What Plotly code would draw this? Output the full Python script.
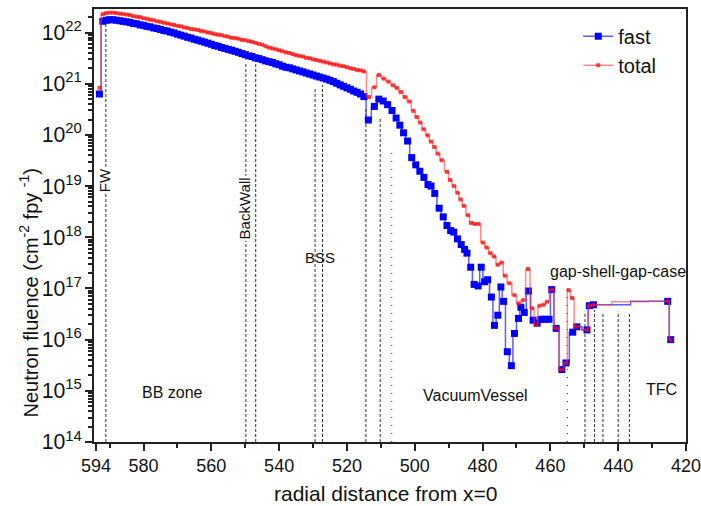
import plotly.graph_objects as go

# ---------------- data ----------------
# breeding blanket zone: positions (cm) shared by both series
depth_bb = [593, 592, 591, 590, 589, 588, 587, 586, 585, 584, 583, 582, 581, 580,
            579, 578, 577, 576, 575, 574, 573, 572, 571, 570, 569, 568, 567, 566,
            565, 564, 563, 562, 561, 560, 559, 558, 557, 556, 555, 554, 553, 552,
            551, 550, 549, 548, 547, 546, 545, 544, 543, 542, 541, 540, 539, 538,
            537, 536, 535, 534, 533, 532, 531, 530, 529, 528, 527, 526, 525, 524,
            523, 522, 521, 520, 519, 518, 517, 516, 515]

fast_bb = [6.3e20, 1.66e22, 1.74e22, 1.78e22, 1.78e22, 1.74e22, 1.70e22, 1.66e22,
           1.62e22, 1.58e22, 1.51e22, 1.48e22, 1.41e22, 1.38e22, 1.32e22, 1.29e22,
           1.23e22, 1.20e22, 1.15e22, 1.10e22, 1.07e22, 1.02e22, 9.8e21, 9.3e21,
           8.9e21, 8.5e21, 8.1e21, 7.8e21, 7.4e21, 7.1e21, 6.8e21, 6.5e21, 6.2e21,
           5.9e21, 5.6e21, 5.4e21, 5.1e21, 4.9e21, 4.7e21, 4.5e21, 4.3e21, 4.1e21,
           3.9e21, 3.7e21, 3.5e21, 3.4e21, 3.2e21, 3.1e21, 2.95e21, 2.8e21, 2.7e21,
           2.6e21, 2.45e21, 2.35e21, 2.2e21, 2.1e21, 2.05e21, 1.95e21, 1.86e21,
           1.78e21, 1.7e21, 1.62e21, 1.55e21, 1.48e21, 1.41e21, 1.35e21, 1.29e21,
           1.23e21, 1.17e21, 1.1e21, 1.02e21, 9.5e20, 8.9e20, 8.3e20, 7.8e20,
           7.2e20, 6.8e20, 6.3e20, 5.6e20]

total_bb = [8.3e20, 2.29e22, 2.4e22, 2.45e22, 2.45e22, 2.4e22, 2.34e22, 2.29e22,
            2.24e22, 2.19e22, 2.09e22, 2.04e22, 2.0e22, 1.9e22, 1.86e22, 1.78e22,
            1.74e22, 1.66e22, 1.62e22, 1.55e22, 1.51e22, 1.45e22, 1.41e22, 1.35e22,
            1.32e22, 1.26e22, 1.23e22, 1.17e22, 1.15e22, 1.12e22, 1.07e22, 1.05e22,
            1.0e22, 9.8e21, 9.3e21, 9.1e21, 8.9e21, 8.5e21, 8.3e21, 7.9e21, 7.8e21,
            7.6e21, 7.2e21, 7.1e21, 6.8e21, 6.6e21, 6.3e21, 6.0e21, 5.8e21, 5.4e21,
            5.1e21, 4.9e21, 4.7e21, 4.5e21, 4.3e21, 4.1e21, 4.0e21, 3.8e21, 3.6e21,
            3.5e21, 3.4e21, 3.2e21, 3.15e21, 3.0e21, 2.9e21, 2.8e21, 2.7e21, 2.6e21,
            2.5e21, 2.4e21, 2.35e21, 2.25e21, 2.2e21, 2.1e21, 2.0e21, 1.95e21,
            1.86e21, 1.82e21, 1.74e21]

# vacuum vessel / gap-shell-gap-case / TFC region
depth_fast_vv = [513.7, 511.9, 510.6, 509.3, 508.0, 506.7, 505.5, 504.4, 503.3, 502.1,
                 500.9, 499.7, 498.5, 497.3, 496.1, 495.2, 494.1, 492.8, 491.6, 490.5,
                 489.4, 488.5, 487.4, 486.3, 485.3, 484.6, 483.5, 482.5, 481.3, 480.4,
                 479.4, 478.5, 477.4, 476.5, 475.5, 474.6, 473.8, 472.7, 471.5, 470.6,
                 469.4, 468.7, 467.7, 466.5, 465.1, 463.9, 462.8, 461.6, 460.4, 459.6,
                 458.3, 456.6, 455.4, 453.4, 452.2, 449.2, 448.5, 447.3, 425.4, 424.5]
fast_vv = [1.95e20, 3.6e20, 5.0e20, 4.6e20, 3.9e20, 3.0e20, 2.14e20, 1.55e20, 1.1e20,
           7.6e19, 3.6e19, 2.6e19, 1.95e19, 1.48e19, 1.07e19, 1.0e19, 7.2e18, 3.7e18,
           2.5e18, 1.7e18, 1.35e18, 1.26e18, 9.3e17, 7.2e17, 5.8e17, 4.9e17, 2.6e17,
           1.2e17, 1.12e17, 2.6e17, 1.35e17, 1.48e17, 6.8e16, 1.9e16, 3.0e16, 1.07e17,
           5.6e16, 5.8e15, 3.1e15, 1.32e16, 2.6e16, 4.3e16, 3.4e16, 8.9e16, 2.4e16,
           2.1e16, 2.5e16, 2.5e16, 2.5e16, 9.5e16, 1.66e16, 2.6e15, 3.5e15, 1.4e16,
           1.78e16, 1.55e16, 4.6e16, 4.8e16, 5.6e16, 1.0e16]

depth_total_vv = [513.5, 511.9, 510.6, 509.2, 507.8, 506.4, 505.3, 504.1, 502.9, 501.6,
                  500.4, 499.4, 498.4, 497.4, 496.2, 495.2, 494.2, 493.2, 492.0, 490.5,
                  489.6, 488.4, 487.4, 486.5, 485.5, 484.3, 483.4, 482.3, 481.2, 479.9,
                  478.8, 477.7, 476.6, 475.5, 474.4, 473.4, 472.1, 470.6, 469.4, 468.0,
                  466.6, 465.4, 464.2, 463.2, 462.0, 461.0, 459.6, 458.3, 456.6, 455.4,
                  454.6, 453.6, 452.4, 449.2, 448.5, 447.3, 436.5, 425.4, 424.5]
total_vv = [5.5e20, 8.5e20, 1.48e21, 1.26e21, 1.1e21, 9.3e20, 8.3e20, 6.9e20, 5.5e20,
            4.5e20, 2.95e20, 2.24e20, 1.74e20, 1.29e20, 9.8e19, 7.4e19, 5.8e19, 4.3e19,
            3.2e19, 1.9e19, 1.32e19, 1.0e19, 7.4e18, 5.5e18, 4.1e18, 2.7e18, 1.9e18,
            1.82e18, 1.82e18, 7.9e17, 6.3e17, 4.9e17, 4.2e17, 2.9e17, 3.2e17, 1.78e17,
            1.26e17, 7.4e16, 5.1e16, 5.9e16, 2.4e17, 4.1e16, 1.95e16, 4.6e16, 4.8e16,
            5.5e16, 9.5e16, 1.66e16, 2.6e15, 3.5e15, 9.3e16, 6.5e16, 1.78e16, 1.55e16,
            4.6e16, 4.8e16, 5.5e16, 5.6e16, 1.0e16]

# region boundary lines: (position, style)
boundaries = [(591.1, "dash"), (549.8, "dash"), (546.9, "dash"), (529.4, "dash"),
              (527.2, "dash"), (514.4, "dash"), (510.2, "dash"), (506.8, "dot"),
              (455.0, "dot"), (449.8, "dash"), (447.0, "dash"), (444.5, "dash"),
              (440.0, "dash"), (436.7, "dash")]
boundary_tops = [0.970, 0.876, 0.894, 0.818, 0.824, 0.771, 0.748, 0.679,
                 0.367, 0.301, 0.305, 0.298, 0.301, 0.298]

zone_labels = [("FW", 591.6, 0.605, -90, 15), ("BackWall", 550.3, 0.540, -90, 15),
               ("BSS", 527.9, 0.425, 0, 15), ("BB zone", 571.4, 0.115, 0, 16),
               ("VacuumVessel", 482.0, 0.108, 0, 16), ("gap-shell-gap-case", 440.0, 0.393, 0, 16),
               ("TFC", 427.3, 0.122, 0, 16)]

# ---------------- figure ----------------
fast_x = depth_bb + depth_fast_vv
fast_y = fast_bb + fast_vv
total_x = depth_bb + depth_total_vv
total_y = total_bb + total_vv
total_sizes = [4] * len(total_x)
total_sizes[total_x.index(436.5)] = 0

FONT = "Liberation Sans, Arial"

fig = go.Figure()
fig.add_trace(go.Scatter(
    x=fast_x, y=fast_y, name="fast", mode="lines+markers",
    line=dict(color="rgba(40,40,255,0.75)", width=1.5, shape="hvh"),
    marker=dict(symbol="square", size=7, color="#0000ff", line=dict(width=0)),
))
fig.add_trace(go.Scatter(
    x=total_x, y=total_y, name="total", mode="lines+markers",
    line=dict(color="rgba(255,60,60,0.6)", width=1.5, shape="hvh"),
    marker=dict(symbol="square", size=total_sizes, color="#ff0000", line=dict(width=0)),
))

shapes = []
for (xv, style), top in zip(boundaries, boundary_tops):
    dash = "3px,2px" if style == "dash" else "1px,7px"
    shapes.append(dict(type="line", xref="x", yref="paper", x0=xv, x1=xv, y0=0, y1=top,
                       line=dict(color="#333333", width=1, dash=dash), layer="below"))

annotations = []
for text, xv, yv, ang, fs in zone_labels:
    annotations.append(dict(text=text, x=xv, y=yv, xref="x", yref="paper",
                            showarrow=False, textangle=ang,
                            xanchor="center", yanchor="middle",
                            font=dict(family=FONT, size=fs, color="#111"),
                            bgcolor="white" if ang else None))

# axis titles placed as annotations (pixel-matched)
annotations.append(dict(text="radial distance from x=0", x=0.494, y=-0.118,
                        xref="paper", yref="paper", showarrow=False,
                        xanchor="center", yanchor="middle",
                        font=dict(family=FONT, size=21, color="#111")))
annotations.append(dict(text="Neutron fluence (cm<sup>-2</sup> fpy <sup>-1</sup>)",
                        x=-0.11, y=0.345, xref="paper", yref="paper", showarrow=False,
                        textangle=-90, xanchor="center", yanchor="middle",
                        font=dict(family=FONT, size=20, color="#111")))

fig.update_layout(
    width=701, height=506,
    margin=dict(l=94, r=15, t=9, b=64, autoexpand=False),
    paper_bgcolor="white", plot_bgcolor="white",
    font=dict(family=FONT, color="#111"),
    shapes=shapes, annotations=annotations,
    showlegend=True,
    legend=dict(x=0.818, y=0.982, xanchor="left", yanchor="top",
                font=dict(size=20, color="#111"), bgcolor="rgba(0,0,0,0)",
                tracegroupgap=0),
)
fig.update_xaxes(
    range=[594.6, 420], showgrid=False, zeroline=False, automargin=False,
    ticklabeloverflow="allow",
    showline=True, linecolor="#222", linewidth=1.5, mirror=True,
    tickvals=[594, 580, 560, 540, 520, 500, 480, 460, 440, 420],
    ticks="outside", ticklen=7, tickwidth=1.5, tickcolor="#222",
    tickfont=dict(size=18, color="#111"),
    minor=dict(tick0=0, dtick=10, ticks="outside", ticklen=4, tickcolor="#222"),
)
fig.update_yaxes(
    type="log", range=[14, 22.46], showgrid=False, zeroline=False, automargin=False,
    ticklabeloverflow="allow",
    showline=True, linecolor="#222", linewidth=1.5, mirror=True,
    dtick=1, exponentformat="power", showexponent="all",
    ticks="outside", ticklen=7, tickwidth=1.5, tickcolor="#222",
    tickfont=dict(size=17, color="#111"),
    minor=dict(ticks="outside", ticklen=4, tickcolor="#222"),
)

fig.write_html("out.html")
